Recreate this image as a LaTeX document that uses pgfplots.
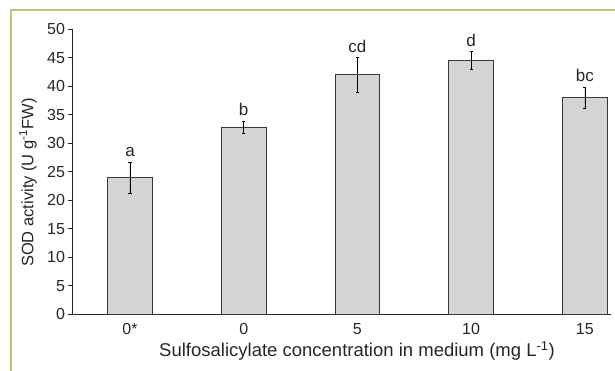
\documentclass[border=0pt]{standalone}
\usepackage{pgfplots}
\pgfplotsset{compat=1.18}
\usepackage{pgfplotstable}
\usepackage{fontspec}
\setmainfont{Liberation Sans}
\definecolor{framegreen}{HTML}{B4CC6E}
\definecolor{barfill}{HTML}{D3D4D6}
\definecolor{bardraw}{HTML}{383838}
\definecolor{axisdark}{HTML}{262626}
\pgfplotstableread{
x y err lab
0 24.0 2.7 a
1 32.8 1.1 b
2 42.0 3.0 cd
3 44.5 1.6 d
4 38.0 1.8 bc
}\datatab
\begin{document}
\begin{tikzpicture}
\useasboundingbox (0pt,0pt) rectangle (615pt,371pt);
\draw[framegreen, line width=1.5pt] (11pt,0pt) -- (11pt,361pt) -- (615pt,361pt);
\begin{axis}[
  at={(72pt,56.7pt)}, anchor=south west,
  scale only axis, width=539pt, height=285pt,
  xmin=-0.51, xmax=4.23, ymin=0, ymax=50,
  axis x line*=bottom, axis y line*=left,
  axis line style={axisdark, line width=0.9pt, -},
  xtick={0,1,2,3,4},
  xticklabels={0*,0,5,10,15},
  xtick style={draw=none},
  ytick={0,5,...,50},
  tick align=outside,
  major tick length=3.5pt,
  ytick style={axisdark, line width=0.8pt},
  /pgf/number format/assume math mode=true,
  tick label style={font=\fontsize{16pt}{18pt}\selectfont, text=axisdark},
  xticklabel style={yshift=-2pt},
  ylabel={SOD activity (U g\textsuperscript{-1}FW)},
  ylabel style={at={(axis description cs:-0.0816,0.462)}, anchor=center, rotate=0, font=\fontsize{16.5pt}{18pt}\selectfont, text=axisdark},
  xlabel={Sulfosalicylate concentration in medium (mg L\textsuperscript{-1})},
  xlabel style={at={(axis description cs:0.5288,-0.1498)}, anchor=base, font=\fontsize{18.5pt}{20pt}\selectfont, text=axisdark},
  clip=false,
]
\addplot[ybar, bar width=44.5pt, fill=barfill, draw=bardraw, line width=0.9pt,
  error bars/.cd, y dir=both, y explicit,
  error bar style={black, line width=0.7pt},
  error mark options={rotate=90, mark size=1.6pt, line width=0.7pt}]
  table[x=x, y=y, y error=err] {\datatab};
\addplot[draw=none, mark=none, nodes near coords, point meta=explicit symbolic,
  nodes near coords style={anchor=base, yshift=5.5pt, font=\fontsize{17pt}{19pt}\selectfont, text=axisdark}]
  table[x=x, y expr=\thisrow{y}+\thisrow{err}, meta=lab] {\datatab};
\end{axis}
\end{tikzpicture}
\end{document}
